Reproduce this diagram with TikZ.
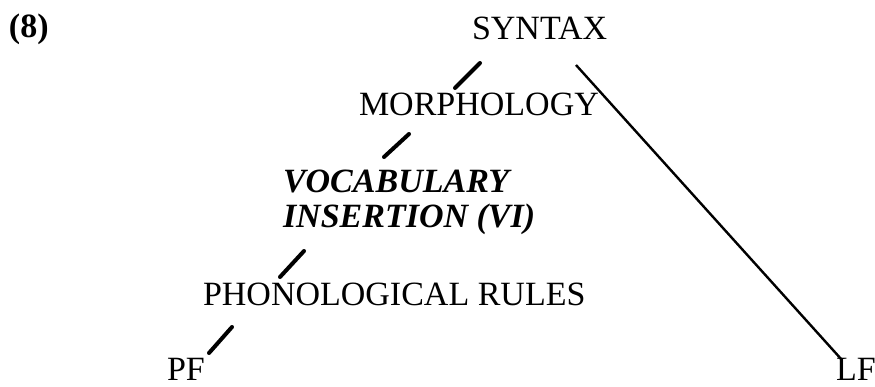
\documentclass[tikz,border=0pt]{standalone}
\usepackage{fontspec}
\setmainfont{Liberation Serif}
\begin{document}
\begin{tikzpicture}[x=1pt,y=-1pt,
  lbl/.style={anchor=base west,inner sep=0pt,outer sep=0pt,font=\fontsize{34}{40}\selectfont},
  lblbf/.style={lbl,font=\fontsize{34}{40}\selectfont\bfseries},
  lblbi/.style={lbl,font=\fontsize{34}{40}\selectfont\bfseries\itshape},
  slash/.style={line width=4pt,line cap=round},
  branch/.style={line width=2.4pt}]
\useasboundingbox (0,0) rectangle (875,386);
\node[lblbf] (num) at (9,37) {(8)};
\node[lbl] (syn) at (472,39) {SYNTAX};
\node[lbl] (mor) at (359,115) {MORPHOLOGY};
\node[lblbi] (voc) at (283,192) {VOCABULARY};
\node[lblbi] (ins) at (283,227) {INSERTION (VI)};
\node[lbl] (pho) at (203,305) {PHONOLOGICAL RULES};
\node[lbl] (pf) at (167,380) {PF};
\node[lbl] (lf) at (836,380) {LF};
% connector end points
\coordinate (s1a) at (480,63);  \coordinate (s1b) at (455,88);
\coordinate (s2a) at (409,134); \coordinate (s2b) at (384,157);
\coordinate (s3a) at (304,251); \coordinate (s3b) at (280,277);
\coordinate (s4a) at (232,327); \coordinate (s4b) at (209,353);
\coordinate (la) at (576,65);   \coordinate (lb) at (842,360);
\draw[slash] (s1a) -- (s1b);
\draw[slash] (s2a) -- (s2b);
\draw[slash] (s3a) -- (s3b);
\draw[slash] (s4a) -- (s4b);
\draw[branch] (la) -- (lb);
\end{tikzpicture}
\end{document}
